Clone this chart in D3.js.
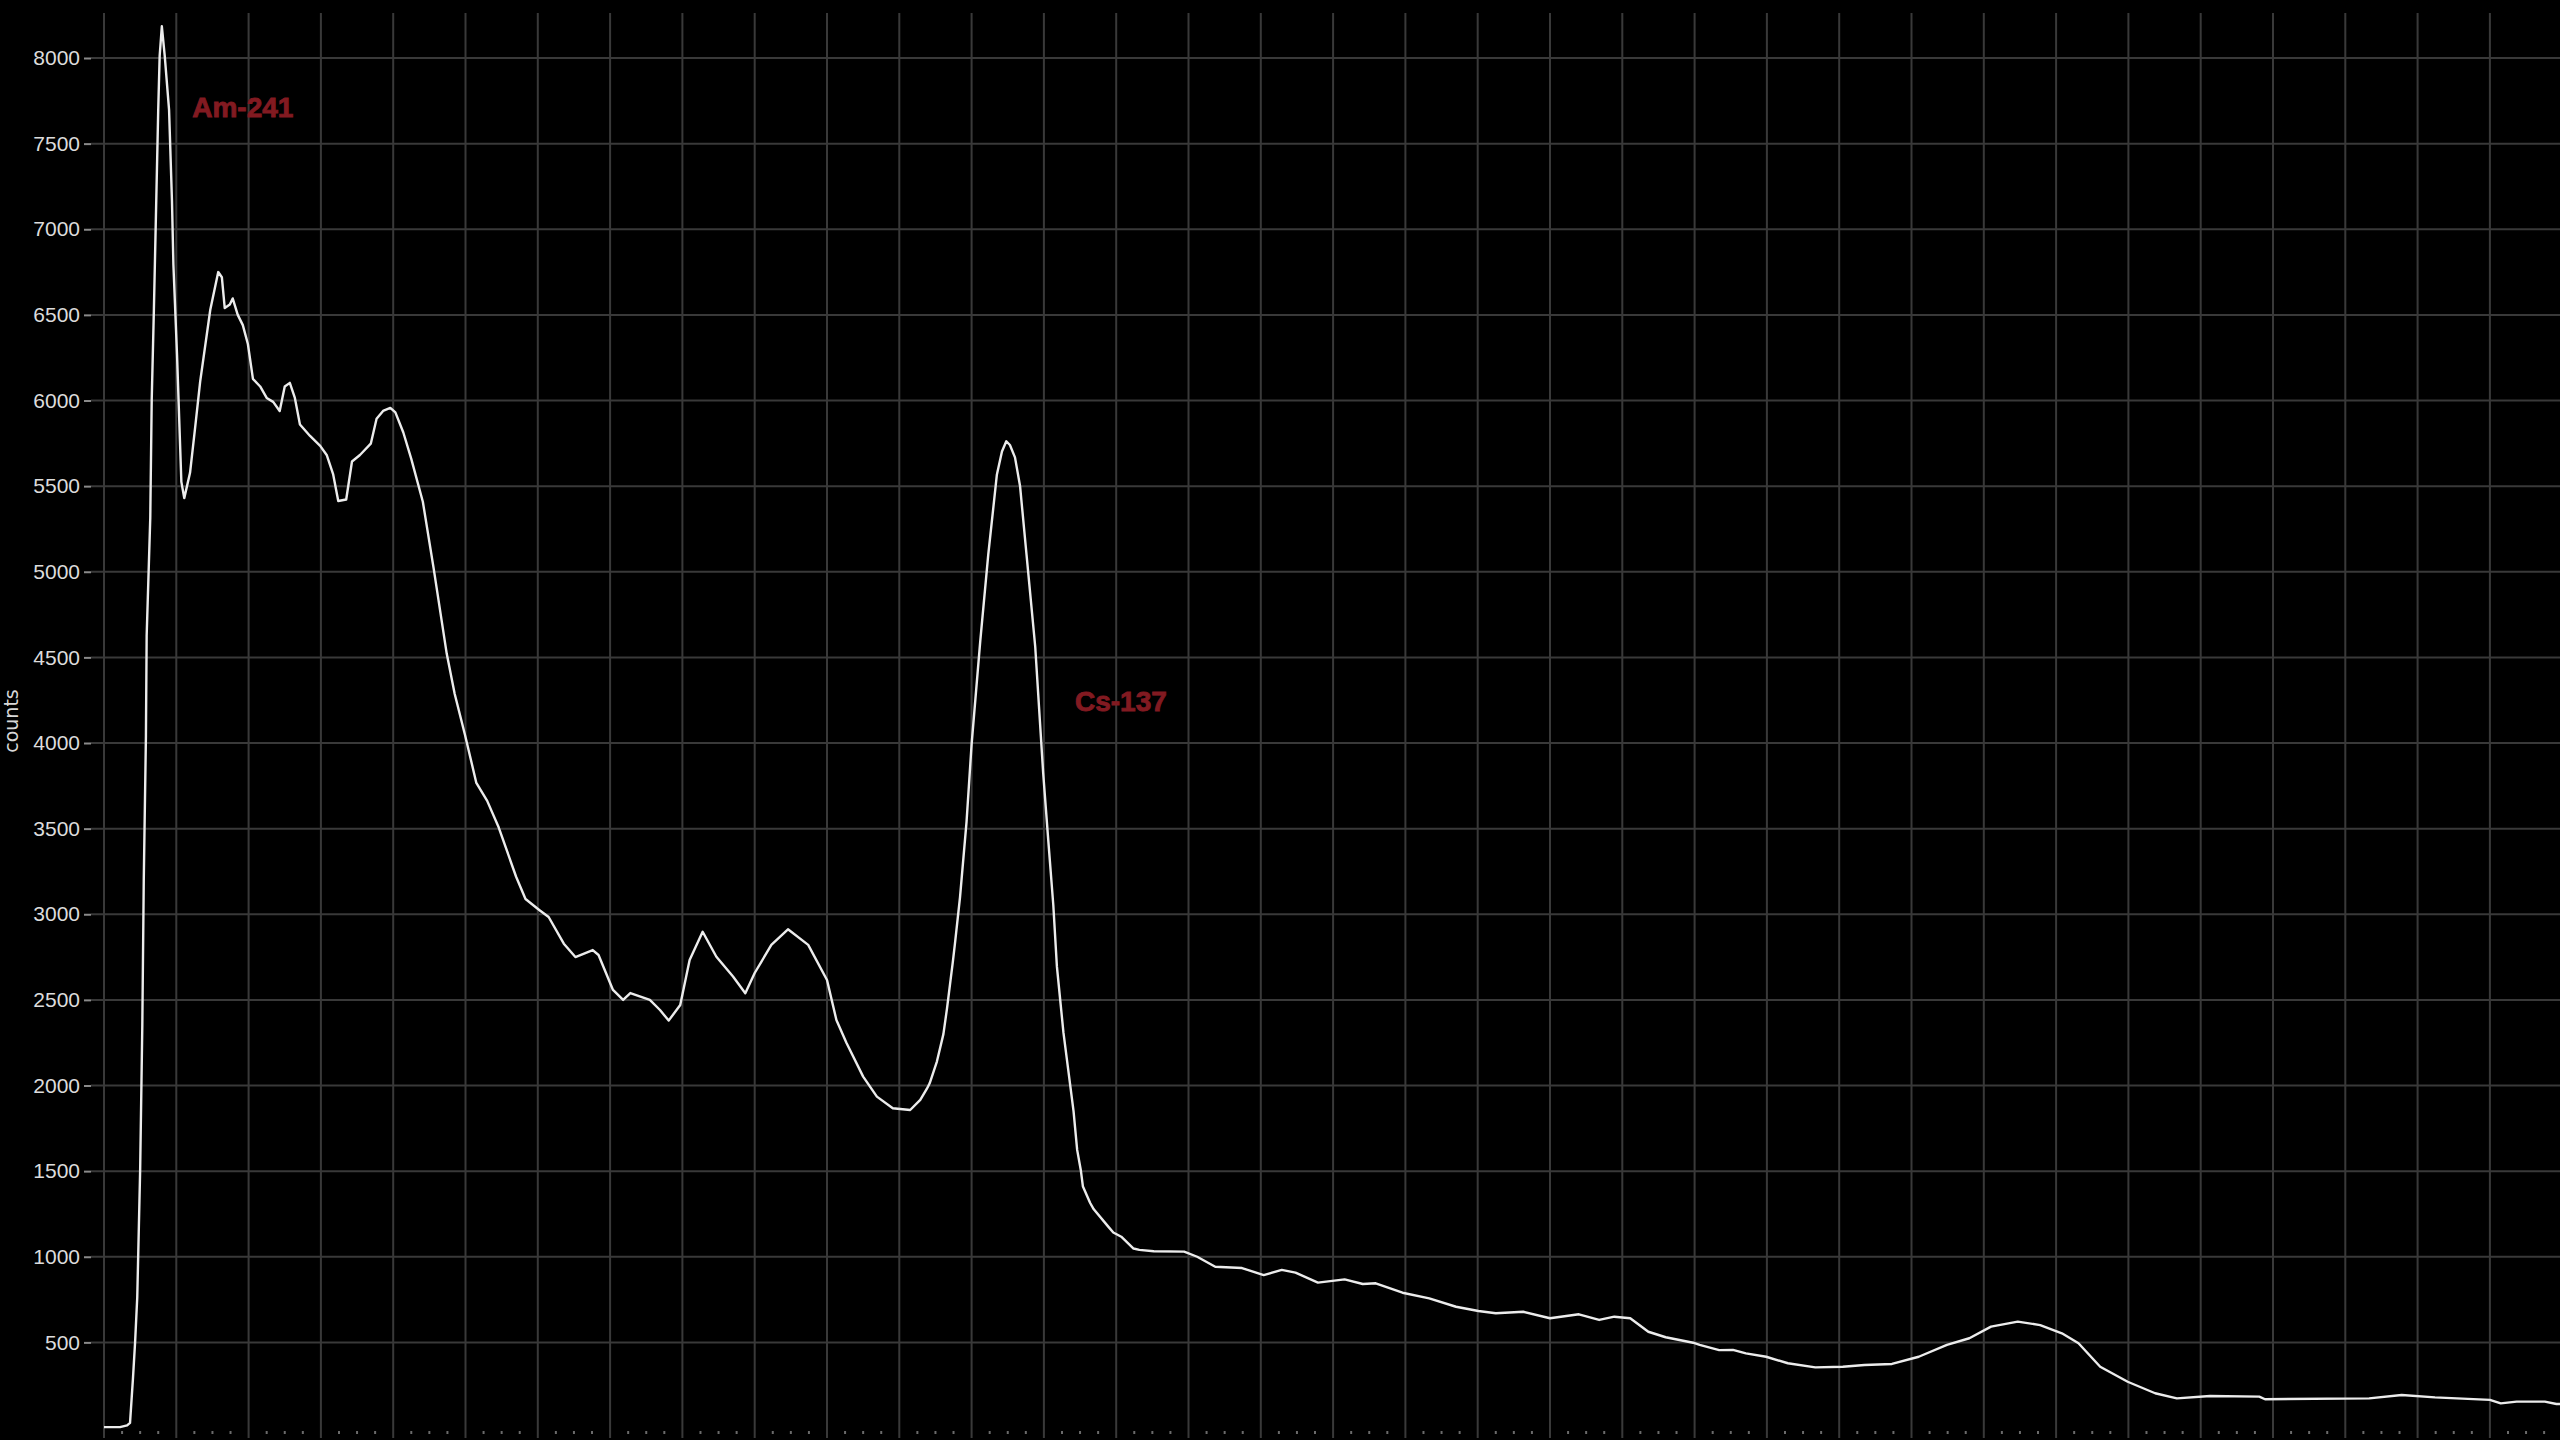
<!DOCTYPE html>
<html>
<head>
<meta charset="utf-8">
<script src="https://cdn.jsdelivr.net/npm/d3@7"></script>
<style>
  html, body { margin: 0; padding: 0; background: #000; overflow: hidden; }
  .grid line { stroke: #393939; stroke-width: 2px; }
  .ytick text { fill: #dcdcdc; font: 21px "Liberation Sans", Arial, sans-serif; }
  .ytick line { stroke: #8a8a8a; stroke-width: 2px; }
  .ylabel { fill: #d8d8d8; font: 19px "DejaVu Sans", sans-serif; }
  .spectrum { fill: none; stroke: #ececec; stroke-width: 2.4px; stroke-linejoin: round; }
  .peak-label { fill: #821a21; stroke: #821a21; stroke-width: 0.9px; font: bold 28px "Liberation Sans", Arial, sans-serif; }
</style>
</head>
<body>
<div id="chart"></div>
<script>
// spectrum (channel, counts)
var channels = [
  0, 22, 32, 36, 40, 43, 46, 50, 53, 55, 58, 59, 64, 66, 69, 72, 75, 77, 80, 84,
  90, 94, 96, 101, 104, 107, 111, 119, 126, 133, 147, 158, 163, 167, 174, 178, 185, 192, 199, 206,
  216, 225, 234, 243, 250, 257, 264, 271, 285, 299, 308, 317, 324, 335, 343, 354, 369, 377, 386, 396,
  403, 414, 425, 441, 456, 474, 485, 499, 515, 530, 546, 570, 583, 602, 615, 636, 652, 676, 684, 704,
  718, 728, 755, 769, 781, 797, 810, 828, 847, 870, 887, 900, 923, 946, 974, 1000, 1013, 1027, 1050, 1069,
  1091, 1115, 1129, 1138, 1142, 1152, 1161, 1166, 1171, 1174, 1177, 1184, 1193, 1200, 1212, 1223, 1235, 1242, 1248, 1253,
  1260, 1267, 1276, 1288, 1299, 1306, 1313, 1318, 1327, 1341, 1346, 1351, 1354, 1364, 1369, 1389, 1396, 1407, 1424, 1432,
  1452, 1494, 1512, 1537, 1574, 1604, 1629, 1648, 1679, 1716, 1741, 1759, 1796, 1833, 1870, 1901, 1925, 1963, 2000, 2040,
  2068, 2089, 2111, 2136, 2160, 2198, 2207, 2234, 2253, 2271, 2299, 2329, 2367, 2405, 2435, 2473, 2510, 2549, 2580, 2610,
  2647, 2678, 2708, 2731, 2761, 2799, 2837, 2867, 2913, 2981, 2989, 3133, 3178, 3224, 3300, 3315, 3337, 3376, 3392, 3400
];
var counts = [
  5, 5, 15, 30, 285, 500, 765, 1507, 2353, 3200, 4041, 4625, 5315, 6004, 6530, 7113, 7697, 8013, 8185, 8013,
  7697, 7166, 6792, 6267, 5893, 5525, 5430, 5578, 5840, 6110, 6530, 6750, 6720, 6540, 6560, 6596, 6500, 6440, 6330, 6126,
  6082, 6015, 5992, 5939, 6082, 6103, 6015, 5860, 5793, 5735, 5682, 5568, 5413, 5422, 5644, 5682, 5748, 5893, 5939, 5957,
  5931, 5813, 5659, 5409, 5018, 4522, 4288, 4053, 3767, 3662, 3506, 3219, 3089, 3025, 2984, 2828, 2750, 2791, 2762, 2558,
  2500, 2540, 2500, 2441, 2379, 2470, 2733, 2898, 2752, 2636, 2539, 2657, 2821, 2912, 2821, 2616, 2383, 2248, 2052, 1935,
  1867, 1857, 1916, 1980, 2013, 2140, 2300, 2450, 2620, 2720, 2830, 3100, 3540, 3992, 4596, 5098, 5568, 5702, 5762, 5740,
  5668, 5501, 5098, 4562, 3825, 3434, 3054, 2694, 2310, 1850, 1624, 1507, 1410, 1314, 1277, 1176, 1142, 1117, 1048, 1040,
  1032, 1030, 1000, 942, 934, 893, 923, 907, 849, 868, 841, 845, 790, 757, 708, 683, 670, 679, 641, 664,
  631, 650, 641, 562, 530, 498, 485, 455, 456, 436, 416, 378, 354, 358, 368, 374, 416, 485, 524, 592,
  621, 601, 553, 495, 358, 270, 203, 173, 187, 183, 168, 173, 193, 179, 164, 144, 154, 154, 140, 140
];

var yTicks = d3.range(500, 8001, 500);
var xMajorStep = 100;
var xMinorStep = 25;
var channelMax = 3400;

var peakNames = ["Am-241", "Cs-137"];
var peakLabelChannels = [122, 1343];
var peakLabelCounts = [7656, 4187];

var width = 2560,
    height = 1440;

var x = d3.scaleLinear().domain([0, channelMax]).range([104, 104 + channelMax * 0.7230]);
var y = d3.scaleLinear().domain([0, 8000]).range([1428, 58]);

var svg = d3.select("#chart").append("svg")
    .attr("width", width)
    .attr("height", height)
    .style("display", "block")
    .style("background", "#000");

var plotTop = 13, plotBottom = 1432;

// vertical grid lines
svg.append("g").attr("class", "grid")
  .selectAll("line")
  .data(d3.range(0, channelMax + 1, xMajorStep))
  .enter().append("line")
    .attr("x1", function(d) { return x(d); })
    .attr("x2", function(d) { return x(d); })
    .attr("y1", plotTop)
    .attr("y2", plotBottom + 6);

// horizontal grid lines
svg.append("g").attr("class", "grid")
  .selectAll("line")
  .data(yTicks)
  .enter().append("line")
    .attr("x1", 91)
    .attr("x2", width)
    .attr("y1", function(d) { return y(d); })
    .attr("y2", function(d) { return y(d); });

// minor tick dots along the bottom
svg.append("g")
  .selectAll("line")
  .data(d3.range(0, channelMax + 1, xMinorStep).filter(function(d) { return d % xMajorStep !== 0; }))
  .enter().append("line")
    .attr("x1", function(d) { return x(d); })
    .attr("x2", function(d) { return x(d); })
    .attr("y1", plotBottom - 1)
    .attr("y2", plotBottom + 2)
    .attr("stroke", "#6a6a6a")
    .attr("stroke-width", 2);

// y axis
var yAxis = d3.axisLeft(y).tickValues(yTicks).tickFormat(d3.format("d")).tickSize(7).tickPadding(4);
var gy = svg.append("g")
    .attr("class", "ytick")
    .attr("transform", "translate(91,0)")
    .call(yAxis);
gy.select(".domain").remove();
gy.selectAll("text").attr("fill", null);
gy.selectAll("line").attr("stroke", null);

svg.append("text")
    .attr("class", "ylabel")
    .attr("transform", "translate(18,721) rotate(-90)")
    .attr("text-anchor", "middle")
    .text("counts");

// spectrum line
var line = d3.line()
    .x(function(d) { return x(d[0]); })
    .y(function(d) { return y(d[1]); });

svg.append("path")
    .datum(d3.zip(channels, counts))
    .attr("class", "spectrum")
    .attr("d", line);

// peak labels
svg.append("g")
  .selectAll("text")
  .data(d3.zip(peakNames, peakLabelChannels, peakLabelCounts))
  .enter().append("text")
    .attr("class", "peak-label")
    .attr("x", function(d) { return x(d[1]); })
    .attr("y", function(d) { return y(d[2]); })
    .text(function(d) { return d[0]; });
</script>
</body>
</html>
